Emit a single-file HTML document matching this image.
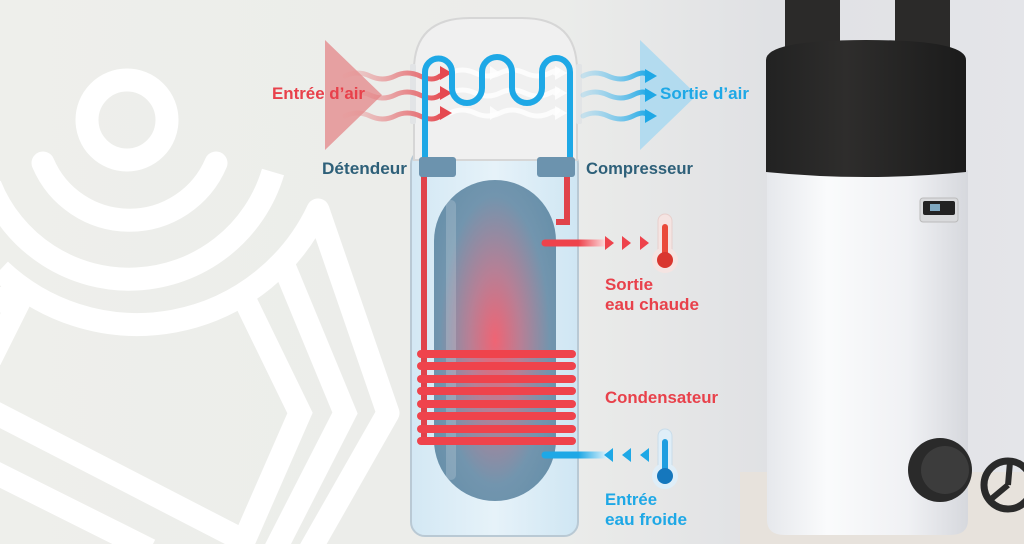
<!DOCTYPE html>
<html><head><meta charset="utf-8"><style>
html,body{margin:0;padding:0;width:1024px;height:544px;overflow:hidden}
svg{display:block}
text{font-family:"Liberation Sans",sans-serif;font-weight:bold;font-size:17px}
</style></head><body>
<svg width="1024" height="544" viewBox="0 0 1024 544" xmlns="http://www.w3.org/2000/svg">
<defs>
<linearGradient id="bg" x1="0" x2="1" y1="0" y2="0">
<stop offset="0" stop-color="#eeefeb"/><stop offset="0.55" stop-color="#ebecea"/><stop offset="0.75" stop-color="#e0e1e4"/><stop offset="1" stop-color="#e4e5e9"/>
</linearGradient>
<radialGradient id="cyl" cx="0.5" cy="0.5" r="0.6">
<stop offset="0" stop-color="#ef6474"/><stop offset="0.35" stop-color="#b87f95"/><stop offset="0.75" stop-color="#7295ae"/><stop offset="1" stop-color="#6890aa"/>
</radialGradient>
<linearGradient id="tank" x1="0" x2="1"><stop offset="0" stop-color="#d3e8f4"/><stop offset="0.5" stop-color="#e6f2f9"/><stop offset="1" stop-color="#cfe6f3"/></linearGradient>
<linearGradient id="hot" gradientUnits="userSpaceOnUse" x1="545" y1="0" x2="612" y2="0"><stop offset="0" stop-color="#ee434c"/><stop offset="0.5" stop-color="#ee434c"/><stop offset="1" stop-color="#ffffff"/></linearGradient>
<linearGradient id="cold" gradientUnits="userSpaceOnUse" x1="545" y1="0" x2="612" y2="0"><stop offset="0" stop-color="#1ea8e6"/><stop offset="0.5" stop-color="#1ea8e6"/><stop offset="1" stop-color="#ffffff"/></linearGradient>
<linearGradient id="redair" gradientUnits="userSpaceOnUse" x1="345" y1="0" x2="445" y2="0"><stop offset="0" stop-color="#e89a9a" stop-opacity="0.3"/><stop offset="1" stop-color="#e5484f"/></linearGradient>
<linearGradient id="blueair" gradientUnits="userSpaceOnUse" x1="583" y1="0" x2="650" y2="0"><stop offset="0" stop-color="#8fd0f0" stop-opacity="0.4"/><stop offset="1" stop-color="#1ea8e6"/></linearGradient>
<linearGradient id="body" x1="0" x2="1"><stop offset="0" stop-color="#e6e8ec"/><stop offset="0.3" stop-color="#fafbfc"/><stop offset="0.7" stop-color="#f0f1f4"/><stop offset="1" stop-color="#d6d8dd"/></linearGradient>
<linearGradient id="blk" x1="0" x2="1"><stop offset="0" stop-color="#222"/><stop offset="0.4" stop-color="#2e2d2c"/><stop offset="1" stop-color="#1b1b1b"/></linearGradient>
</defs>
<rect width="1024" height="544" fill="url(#bg)"/>
<rect x="740" y="472" width="284" height="72" fill="#e7e2dc"/>
<!-- logo -->
<g fill="none" stroke="#ffffff" stroke-width="23" stroke-linecap="round">
<circle cx="127" cy="120" r="40"/>
<path d="M43,163 A94,94 0 0 0 216,163"/>
<path d="M273,172 A150,150 0 0 1 -10,185" stroke-linecap="butt"/>
<path d="M0,270 A200,200 0 0 0 318,210" stroke-linecap="butt"/>
<path d="M318,210 L388,413 L310,550" stroke-linejoin="round"/>
<path d="M285,268 L345,413 L275,550" stroke-linecap="butt"/>
<path d="M245,300 L300,413 L240,550" stroke-linecap="butt"/>
<path d="M-10,305 L20,290" stroke-linecap="butt"/>
<path d="M20,300 L-10,360" stroke-linecap="butt"/>
<path d="M-10,410 L250,544" stroke-linecap="butt"/>
<path d="M-10,470 L150,550" stroke-linecap="butt"/>
</g>
<!-- big triangles -->
<polygon points="325,40 325,150 382,95" fill="#e58c8e" opacity="0.8"/>
<polygon points="640,40 640,150 697,95" fill="#a9d8f0" opacity="0.85"/>
<!-- tank -->
<rect x="411" y="150" width="167" height="386" rx="14" fill="url(#tank)" stroke="#b9c9d4" stroke-width="2"/>
<path d="M414,160 V70 Q414,18 470,18 H522 Q577,18 577,70 V160 Z" fill="#f0f0f0" stroke="#d6d6d6" stroke-width="2"/>
<rect x="410" y="64" width="6" height="60" rx="2" fill="#e2e4e6"/>
<rect x="576" y="64" width="6" height="60" rx="2" fill="#e2e4e6"/>
<rect x="434" y="180" width="122" height="321" rx="61" fill="url(#cyl)"/>
<rect x="446" y="200" width="10" height="280" rx="5" fill="#ffffff" opacity="0.18"/>
<!-- red pipes -->
<g fill="none" stroke="#e0434b" stroke-width="6">
<path d="M424,176 V445"/>
<path d="M567,176 V222 H556"/>
</g>
<g stroke="#ef434c" stroke-width="8" stroke-linecap="round">
<line x1="421" y1="354" x2="572" y2="354"/>
<line x1="421" y1="366" x2="572" y2="366"/>
<line x1="421" y1="379" x2="572" y2="379"/>
<line x1="421" y1="391" x2="572" y2="391"/>
<line x1="421" y1="404" x2="572" y2="404"/>
<line x1="421" y1="416" x2="572" y2="416"/>
<line x1="421" y1="429" x2="572" y2="429"/>
<line x1="421" y1="441" x2="572" y2="441"/>
</g>
<!-- air waves -->
<g fill="none" stroke-width="5" stroke-linecap="round">
<g stroke="url(#redair)">
<path d="M345,76 q12,-6 25,0 t25,0 t25,0 t20,0"/>
<path d="M345,95 q12,-6 25,0 t25,0 t25,0 t20,0"/>
<path d="M345,116 q12,-6 25,0 t25,0 t25,0 t20,0"/>
</g>
<g stroke="#ffffff" opacity="0.8">
<path d="M450,73 q12,-6 25,0 t25,0 t25,0 t25,0 t5,0"/>
<path d="M450,93 q12,-6 25,0 t25,0 t25,0 t25,0 t5,0"/>
<path d="M450,113 q12,-6 25,0 t25,0 t25,0 t25,0 t5,0"/>
</g>
<g stroke="url(#blueair)">
<path d="M583,76 q12,-6 25,0 t25,0 t15,0"/>
<path d="M583,95 q12,-6 25,0 t25,0 t15,0"/>
<path d="M583,116 q12,-6 25,0 t25,0 t15,0"/>
</g>
</g>
<g fill="#e5484f"><polygon points="440,66 452,73 440,80"/><polygon points="440,86 452,93 440,100"/><polygon points="440,106 452,113 440,120"/></g>
<g fill="#ffffff" opacity="0.85"><polygon points="555,66 567,73 555,80"/><polygon points="555,86 567,93 555,100"/><polygon points="555,106 567,113 555,120"/><polygon points="490,66 500,73 490,80"/><polygon points="490,106 500,113 490,120"/></g>
<g fill="#1ea8e6"><polygon points="645,69 657,76 645,83"/><polygon points="645,88 657,95 645,102"/><polygon points="645,109 657,116 645,123"/></g>
<!-- blue coil -->
<path d="M425,160 V72 A13.5,13.5 0 0 1 452,72 V88 A15,15 0 0 0 482,88 V72 A15,15 0 0 1 512,72 V88 A15,15 0 0 0 542,88 V72 A14,14 0 0 1 570,72 V160" fill="none" stroke="#1ea8e6" stroke-width="6"/>
<!-- boxes -->
<rect x="419" y="157" width="37" height="20" rx="3" fill="#6c93ae"/>
<rect x="537" y="157" width="38" height="20" rx="3" fill="#6c93ae"/>
<!-- hot outlet -->
<line x1="545" y1="243" x2="608" y2="243" stroke="url(#hot)" stroke-width="7" stroke-linecap="round"/>
<g fill="#ee434c"><polygon points="605,236 614,243 605,250"/><polygon points="622,236 631,243 622,250"/><polygon points="640,236 649,243 640,250"/></g>
<rect x="658" y="214" width="14" height="50" rx="7" fill="#f5e4e2" stroke="#e8cfcc"/>
<circle cx="665" cy="260" r="13" fill="#f5e4e2"/>
<rect x="662" y="224" width="6" height="36" rx="3" fill="#ea4a3a"/>
<circle cx="665" cy="260" r="8" fill="#d9362f"/>
<!-- cold inlet -->
<line x1="545" y1="455" x2="608" y2="455" stroke="url(#cold)" stroke-width="7" stroke-linecap="round"/>
<g fill="#1ea8e6"><polygon points="613,448 604,455 613,462"/><polygon points="631,448 622,455 631,462"/><polygon points="649,448 640,455 649,462"/></g>
<rect x="658" y="429" width="14" height="50" rx="7" fill="#dfeef8" stroke="#c9dcea"/>
<circle cx="665" cy="476" r="13" fill="#dfeef8"/>
<rect x="662" y="439" width="6" height="36" rx="3" fill="#1f9ee0"/>
<circle cx="665" cy="476" r="8" fill="#1577bd"/>
<!-- labels -->
<g fill="#e8414b">
<text x="272" y="99" textLength="93" lengthAdjust="spacingAndGlyphs">Entrée d’air</text>
<text x="605" y="290" textLength="48" lengthAdjust="spacingAndGlyphs">Sortie</text>
<text x="605" y="310" textLength="94" lengthAdjust="spacingAndGlyphs">eau chaude</text>
<text x="605" y="403" textLength="113" lengthAdjust="spacingAndGlyphs">Condensateur</text>
</g>
<g fill="#1ea8e6">
<text x="660" y="99" textLength="89" lengthAdjust="spacingAndGlyphs">Sortie d’air</text>
<text x="605" y="505" textLength="52" lengthAdjust="spacingAndGlyphs">Entrée</text>
<text x="605" y="525" textLength="82" lengthAdjust="spacingAndGlyphs">eau froide</text>
</g>
<g fill="#2e6079">
<text x="322" y="174" textLength="85" lengthAdjust="spacingAndGlyphs">Détendeur</text>
<text x="586" y="174" textLength="107" lengthAdjust="spacingAndGlyphs">Compresseur</text>
</g>
<!-- product photo -->
<rect x="785" y="0" width="55" height="55" fill="#2b2a29"/>
<rect x="895" y="0" width="55" height="55" fill="#2b2a29"/>
<path d="M767,520 V170 H968 V520 Q968,535 950,535 H785 Q767,535 767,520 Z" fill="url(#body)"/>
<path d="M766,60 Q766,40 866,40 Q966,40 966,60 V172 Q866,182 766,172 Z" fill="url(#blk)"/>
<rect x="920" y="198" width="38" height="24" rx="3" fill="#d9dadc" stroke="#bbb"/>
<rect x="923" y="201" width="32" height="14" rx="2" fill="#222"/>
<rect x="930" y="204" width="10" height="7" fill="#7fa8c0"/>
<circle cx="940" cy="470" r="32" fill="#2a2a2a"/>
<circle cx="945" cy="470" r="24" fill="#3c3c3c"/>
<circle cx="1008" cy="485" r="24" fill="none" stroke="#2a2a2a" stroke-width="7"/>
<path d="M1008,485 L990,500 M1008,485 L1010,462" stroke="#2a2a2a" stroke-width="6"/>
</svg>
</body></html>
